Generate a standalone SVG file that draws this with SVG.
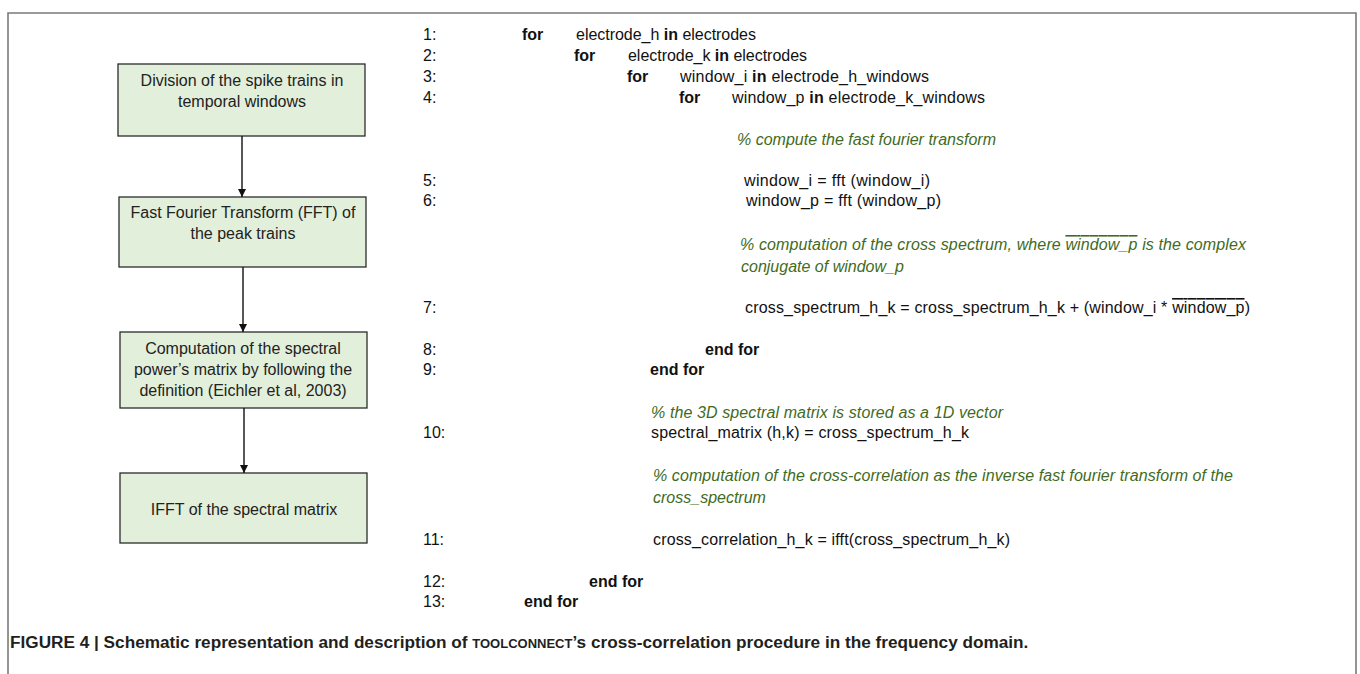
<svg xmlns="http://www.w3.org/2000/svg" width="1360" height="674" viewBox="0 0 1360 674">
<defs>
<style>
.frame{fill:none;stroke:#7a7a7a;stroke-width:1.6}
.box{fill:#e2efda;stroke:#2b2b2b;stroke-width:1.3}
.bt{font-family:"Liberation Sans",Arial,sans-serif;font-size:16px;fill:#222;text-anchor:middle}
.code{font-family:"Liberation Sans",Arial,sans-serif;font-size:16px;fill:#111}
.kw{font-weight:bold}
.cm{font-family:"Liberation Sans",Arial,sans-serif;font-size:16px;font-style:italic;fill:#3f6b22}
.ov{text-decoration:overline}
.cap{font-family:"Liberation Sans",Arial,sans-serif;font-size:17.2px;font-weight:bold;fill:#231f20}
.edge{stroke:#111;stroke-width:1.4;fill:none}
</style>
<marker id="ah" viewBox="0 0 10 10" refX="10" refY="5" markerWidth="8" markerHeight="8" markerUnits="userSpaceOnUse" orient="auto">
<path d="M0,0 L10,5 L0,10 z" fill="#111"/>
</marker>
</defs>
<rect width="1360" height="674" fill="#fff"/>
<path class="frame" d="M8,680 L8,13 L1356,13 L1356,680"/>

<g id="node1"><rect class="box" x="118" y="64" width="247" height="72"/>
<text class="bt" x="242" y="86">Division of the spike trains in</text>
<text class="bt" x="242" y="107">temporal windows</text></g>
<g id="node2"><rect class="box" x="119" y="197" width="247" height="70"/>
<text class="bt" x="243" y="218">Fast Fourier Transform (FFT) of</text>
<text class="bt" x="243" y="239">the peak trains</text></g>
<g id="node3"><rect class="box" x="120" y="332" width="247" height="76"/>
<text class="bt" x="243" y="354">Computation of the spectral</text>
<text class="bt" x="243" y="375">power’s matrix by following the</text>
<text class="bt" x="243" y="396">definition (Eichler et al, 2003)</text></g>
<g id="node4"><rect class="box" x="120" y="473" width="247" height="70"/>
<text class="bt" x="244" y="515">IFFT of the spectral matrix</text></g>

<g id="connectors">
<line class="edge" x1="242" y1="136" x2="242" y2="197" marker-end="url(#ah)"/>
<line class="edge" x1="243" y1="267" x2="243" y2="332" marker-end="url(#ah)"/>
<line class="edge" x1="244" y1="408" x2="244" y2="473" marker-end="url(#ah)"/>
</g>

<g id="code">
<text class="code" x="423" y="40">1:</text>
<text class="code kw" x="522" y="40">for</text>
<text class="code" x="576" y="40" textLength="180">electrode_h <tspan class="kw">in</tspan> electrodes</text>
<text class="code" x="423" y="61">2:</text>
<text class="code kw" x="574" y="61">for</text>
<text class="code" x="628" y="61" textLength="179">electrode_k <tspan class="kw">in</tspan> electrodes</text>
<text class="code" x="423" y="82">3:</text>
<text class="code kw" x="627" y="82">for</text>
<text class="code" x="680" y="82" textLength="249">window_i <tspan class="kw">in</tspan> electrode_h_windows</text>
<text class="code" x="423" y="103">4:</text>
<text class="code kw" x="679" y="103">for</text>
<text class="code" x="732" y="103" textLength="253">window_p <tspan class="kw">in</tspan> electrode_k_windows</text>
<text class="cm" x="737" y="145" textLength="259">% compute the fast fourier transform</text>
<text class="code" x="423" y="186">5:</text>
<text class="code" x="744" y="186" textLength="186">window_i = fft (window_i)</text>
<text class="code" x="423" y="206">6:</text>
<text class="code" x="746" y="206" textLength="195">window_p = fft (window_p)</text>
<text class="cm" x="740" y="250" textLength="506">% computation of the cross spectrum, where  <tspan class="ov">window_p</tspan>  is the complex</text>
<text class="cm" x="741" y="272">conjugate of window_p</text>
<text class="code" x="423" y="313">7:</text>
<text class="code" x="745" y="313" textLength="505">cross_spectrum_h_k = cross_spectrum_h_k + (window_i * <tspan class="ov">window_p</tspan>)</text>
<text class="code" x="423" y="355">8:</text>
<text class="code kw" x="705" y="355">end for</text>
<text class="code" x="423" y="375">9:</text>
<text class="code kw" x="650" y="375">end for</text>
<text class="cm" x="651" y="418" textLength="352">% the 3D spectral matrix is stored as a 1D vector</text>
<text class="code" x="423" y="438">10:</text>
<text class="code" x="651" y="438" textLength="318">spectral_matrix (h,k) = cross_spectrum_h_k</text>
<text class="cm" x="653" y="481" textLength="580">% computation of the cross-correlation as the inverse fast fourier transform of the</text>
<text class="cm" x="653" y="503">cross_spectrum</text>
<text class="code" x="423" y="545">11:</text>
<text class="code" x="653" y="545" textLength="357">cross_correlation_h_k = ifft(cross_spectrum_h_k)</text>
<text class="code" x="423" y="587">12:</text>
<text class="code kw" x="589" y="587">end for</text>
<text class="code" x="423" y="607">13:</text>
<text class="code kw" x="524" y="607">end for</text>
</g>

<text class="cap" x="10" y="648">FIGURE 4 | Schematic representation and description of <tspan font-size="13px">TOOLCONNECT</tspan>’s cross-correlation procedure in the frequency domain.</text>
</svg>
